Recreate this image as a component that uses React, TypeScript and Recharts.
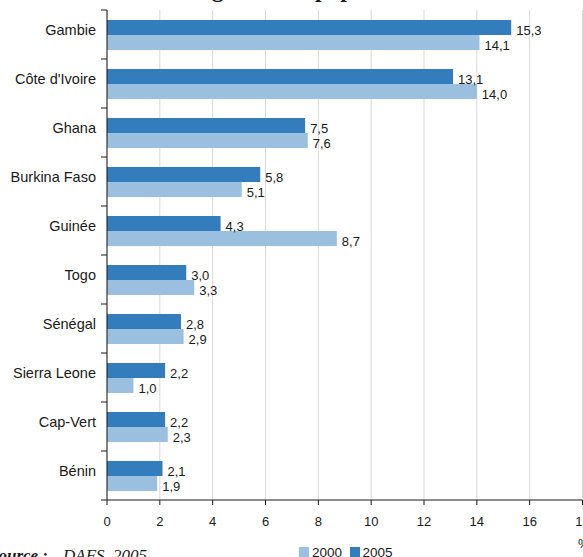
import React from "react";
import { BarChart, Bar, XAxis, YAxis, CartesianGrid, LabelList } from "recharts";

const categories = ["Gambie", "Côte d'Ivoire", "Ghana", "Burkina Faso", "Guinée", "Togo", "Sénégal", "Sierra Leone", "Cap-Vert", "Bénin"];
const values2005 = [15.3, 13.1, 7.5, 5.8, 4.3, 3.0, 2.8, 2.2, 2.2, 2.1];
const values2000 = [14.1, 14.0, 7.6, 5.1, 8.7, 3.3, 2.9, 1.0, 2.3, 1.9];
const xTicks = [0, 2, 4, 6, 8, 10, 12, 14, 16, 18];
const seriesNames = ["2000", "2005"];
const titleText = "Part d'immigrés de la population";
const sourceLabel = "Source : ";
const sourceText = "DAFS, 2005";
const unitText = "%";

const COLORS: Record<string, string> = { "2000": "#9bbfdf", "2005": "#337dbc" };

const W = 583;
const H = 557;
const MARGIN = { top: 10, right: 0.5, bottom: 27, left: 0 };
const X_AXIS_H = 30;
const PLOT_H = H - MARGIN.top - MARGIN.bottom - X_AXIS_H;
const BAND = PLOT_H / categories.length;

const data = categories.map((name, i) => ({ name, v2005: values2005[i], v2000: values2000[i] }));

const fmt = (v: number) => v.toFixed(1).replace(".", ",");

const YTick = (props: any) => {
  const { x, y, payload, index } = props;
  const last = index === categories.length - 1;
  return (
    <g>
      <line x1={x - 6} x2={x} y1={y - BAND / 2} y2={y - BAND / 2} stroke="#1a1a1a" strokeWidth={1} />
      {last && <line x1={x - 6} x2={x} y1={y + BAND / 2} y2={y + BAND / 2} stroke="#1a1a1a" strokeWidth={1} />}
      <text x={x - 11} y={y + 0.5} textAnchor="end" fontFamily="'Liberation Sans', Arial, sans-serif" fontSize={14.5} fill="#1a1a1a">
        {payload.value}
      </text>
    </g>
  );
};

const ValueLabel = (props: any) => {
  const { x, y, width, height, value } = props;
  return (
    <text x={x + width + 5} y={y + height - 0.5} fontFamily="'Liberation Sans', Arial, sans-serif" fontSize={13} fill="#1a1a1a">
      {fmt(Number(value))}
    </text>
  );
};

export default function App() {
  return (
    <div style={{ position: "absolute", left: 0, top: 0, width: W, height: H, overflow: "hidden", background: "#fff" }}>
      <BarChart
        width={W}
        height={H}
        data={data}
        layout="vertical"
        margin={MARGIN}
        barGap={0}
        barSize={15}
      >
        <CartesianGrid horizontal={false} vertical={true} stroke="#d9d9d9" strokeWidth={1} />
        <XAxis
          type="number"
          domain={[0, 18]}
          ticks={xTicks}
          interval={0}
          height={X_AXIS_H}
          axisLine={{ stroke: "#1a1a1a" }}
          tickLine={{ stroke: "#1a1a1a" }}
          tickSize={5}
          tickMargin={12}
          tick={{ fontFamily: "'Liberation Sans', Arial, sans-serif", fontSize: 13, fill: "#1a1a1a" }}
        />
        <YAxis
          type="category"
          dataKey="name"
          width={107}
          axisLine={{ stroke: "#1a1a1a" }}
          tickLine={false}
          tickSize={0}
          tickMargin={0}
          interval={0}
          tick={<YTick />}
        />
        <Bar dataKey="v2005" name="2005" fill={COLORS["2005"]} isAnimationActive={false}>
          <LabelList dataKey="v2005" content={<ValueLabel />} />
        </Bar>
        <Bar dataKey="v2000" name="2000" fill={COLORS["2000"]} isAnimationActive={false}>
          <LabelList dataKey="v2000" content={<ValueLabel />} />
        </Bar>
      </BarChart>
      <svg width={W} height={H} style={{ position: "absolute", left: 0, top: 0, pointerEvents: "none" }}>
        <text x={87} y={-3} fontFamily="'Liberation Serif', 'Times New Roman', serif" fontWeight="bold" fontSize={24} fill="#1a1a1a">
          {titleText}
        </text>
        <text y={561} fontFamily="'Liberation Serif', 'Times New Roman', serif" fontSize={17} fontStyle="italic" fill="#1a1a1a">
          <tspan x={-11} fontWeight="bold">{sourceLabel}</tspan>
          <tspan x={63}>{sourceText}</tspan>
        </text>
        <text x={578} y={547.5} fontFamily="'Liberation Sans', Arial, sans-serif" fontSize={13} fill="#1a1a1a">
          {unitText}
        </text>
        {seriesNames.map((s, i) => (
          <g key={s}>
            <rect x={299 + i * 51} y={547} width={10} height={10} fill={COLORS[s]} />
            <text x={312 + i * 50.5} y={557} fontFamily="'Liberation Sans', Arial, sans-serif" fontSize={13.5} fill="#1a1a1a">
              {s}
            </text>
          </g>
        ))}
      </svg>
    </div>
  );
}
